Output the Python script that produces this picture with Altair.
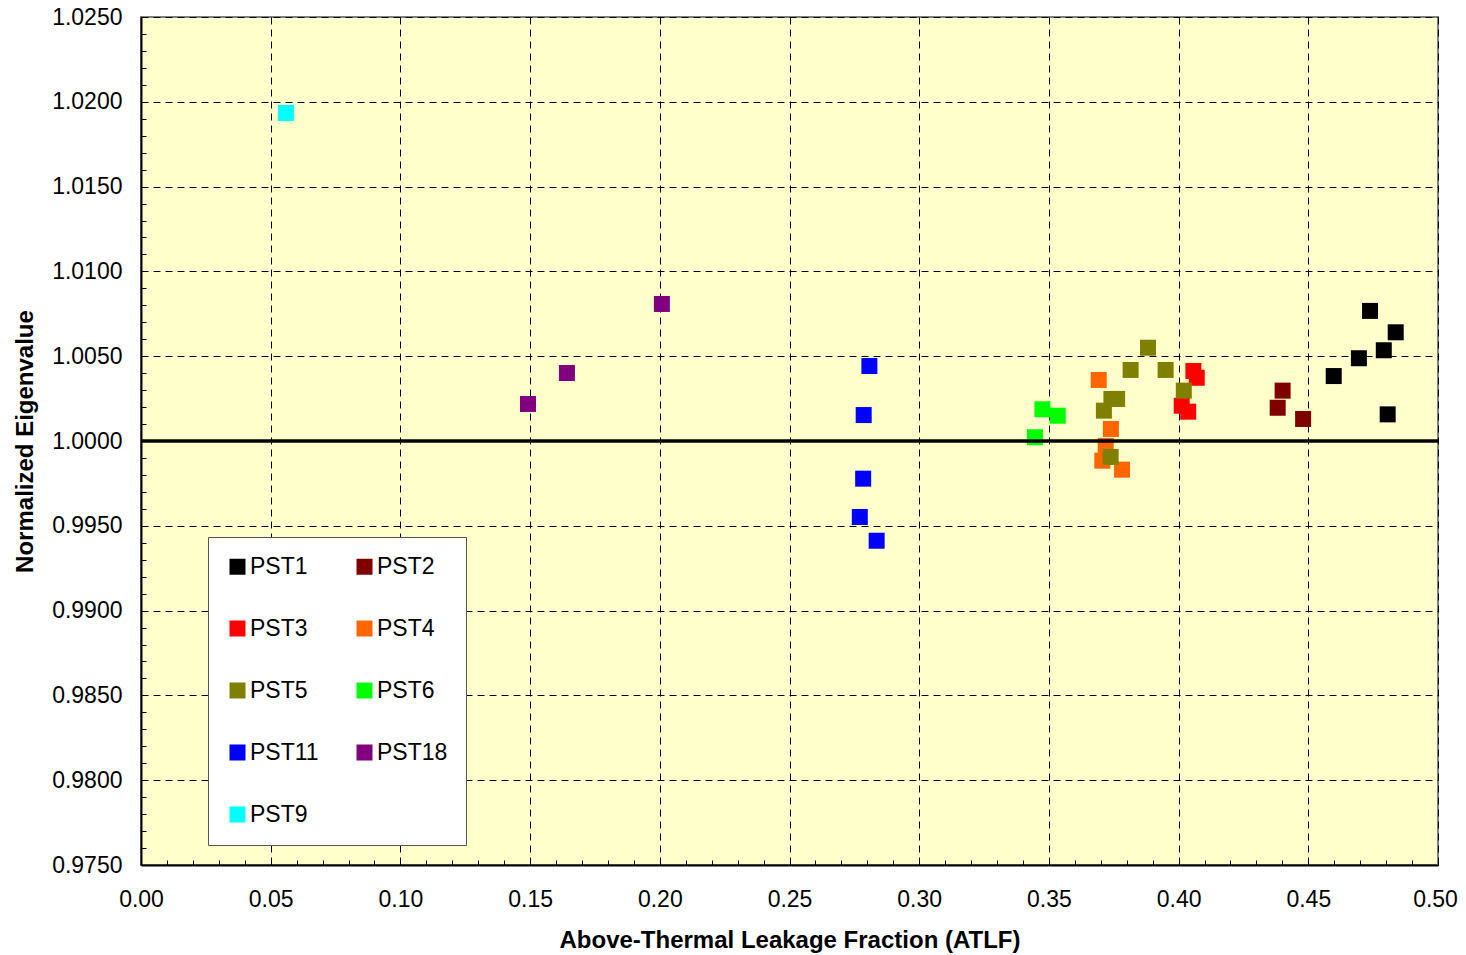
import altair as alt
import pandas as pd

series_order = ["PST1", "PST2", "PST3", "PST4", "PST5", "PST6", "PST11", "PST18", "PST9"]
series_colors = ["#000000", "#800000", "#FF0000", "#FF6600", "#808000",
                 "#00FF00", "#0000FF", "#800080", "#00FFFF"]
# legend grid is filled column by column: list entries so rows read PST1 PST2 / PST3 PST4 / ...
legend_order = ["PST1", "PST3", "PST5", "PST11", "PST9", "PST2", "PST4", "PST6", "PST18"]

pst1_x = [0.4738, 0.4837, 0.4791, 0.4695, 0.4598, 0.4806]
pst1_y = [1.00767, 1.00641, 1.00535, 1.00488, 1.00383, 1.00157]
pst2_x = [0.4401, 0.4382, 0.4480]
pst2_y = [1.00297, 1.00196, 1.00130]
pst3_x = [0.4057, 0.4070, 0.4012, 0.4037]
pst3_y = [1.00413, 1.00373, 1.00208, 1.00173]
pst4_x = [0.3692, 0.3739, 0.3719, 0.3706, 0.3782]
pst4_y = [1.00360, 1.00071, 0.99971, 0.99884, 0.99831]
pst5_x = [0.3882, 0.3815, 0.3950, 0.4020, 0.3741, 0.3763, 0.3712, 0.3738]
pst5_y = [1.00550, 1.00419, 1.00419, 1.00297, 1.00248, 1.00248, 1.00179, 0.99906]
pst6_x = [0.3475, 0.3534, 0.3446]
pst6_y = [1.00187, 1.00149, 1.00022]
pst11_x = [0.2808, 0.2786, 0.2784, 0.2771, 0.2836]
pst11_y = [1.00442, 1.00153, 0.99778, 0.99552, 0.99412]
pst18_x = [0.1492, 0.1642, 0.2008]
pst18_y = [1.00218, 1.00401, 1.00808]
pst9_x = [0.0559]
pst9_y = [1.01934]

reference_value = [1.0]

x_ticks = [round(i * 0.01, 2) for i in range(51)]
y_ticks = [round(0.975 + i * 0.001, 3) for i in range(51)]

series_data = [
    ("PST1", pst1_x, pst1_y), ("PST2", pst2_x, pst2_y), ("PST3", pst3_x, pst3_y),
    ("PST4", pst4_x, pst4_y), ("PST5", pst5_x, pst5_y), ("PST6", pst6_x, pst6_y),
    ("PST11", pst11_x, pst11_y), ("PST18", pst18_x, pst18_y), ("PST9", pst9_x, pst9_y),
]
rows = []
for name, xs, ys in series_data:
    for xv, yv in zip(xs, ys):
        rows.append({"series": name, "atlf": xv, "eig": yv})
df = pd.DataFrame(rows)
ref_df = pd.DataFrame({"eig": reference_value})

color_lookup = dict(zip(series_order, series_colors))
legend_colors = [color_lookup[s] for s in legend_order]

FONT = "Liberation Sans"

xscale = alt.Scale(domain=[0, 0.5], nice=False, zero=False)
yscale = alt.Scale(domain=[0.975, 1.025], nice=False, zero=False)

x_axis = alt.Axis(
    values=x_ticks,
    labelExpr="round(datum.value*100) % 5 == 0 ? format(datum.value, '.2f') : ''",
    labelFont=FONT, labelFontSize=23, labelColor="black",
    labelPadding=28, labelFlush=False, labelOverlap=False,
    labelOffset={"condition": {"test": "datum.value >= 0.495", "value": -3}, "value": 0},
    tickSize={"expr": "-5"}, tickColor="black", tickWidth=1,
    grid=True,
    gridOpacity={"condition": {"test": "round(datum.value*100) % 5 == 0", "value": 1}, "value": 0},
    gridColor="black", gridDash=[7, 5], gridWidth=1,
    domainColor="black", domainWidth=2,
    title="Above-Thermal Leakage Fraction (ATLF)",
    titleFont=FONT, titleFontSize=24, titleFontWeight="bold", titleColor="black",
    titlePadding=17,
)
y_axis = alt.Axis(
    values=y_ticks,
    labelExpr="round(datum.value*1000) % 5 == 0 ? format(datum.value, '.4f') : ''",
    labelFont=FONT, labelFontSize=23, labelColor="black",
    labelPadding=24, labelFlush=False, labelOverlap=False,
    tickSize={"expr": "-5"}, tickColor="black", tickWidth=1,
    grid=True,
    gridOpacity={"condition": {"test": "round(datum.value*1000) % 5 == 0", "value": 1}, "value": 0},
    gridColor="black", gridDash=[7, 5], gridWidth=1,
    domainColor="black", domainWidth=2,
    title="Normalized Eigenvalue",
    titleFont=FONT, titleFontSize=24, titleFontWeight="bold", titleColor="black",
    titlePadding=14,
)

points = alt.Chart(df).mark_square(size=256, opacity=1, strokeWidth=0).encode(
    x=alt.X("atlf:Q", scale=xscale, axis=x_axis),
    y=alt.Y("eig:Q", scale=yscale, axis=y_axis),
    color=alt.Color(
        "series:N",
        scale=alt.Scale(domain=legend_order, range=legend_colors),
        title=None,
        legend=alt.Legend(
            orient="none", legendX=67, legendY=520, columns=2,
            symbolType="square", symbolSize=256, symbolStrokeWidth=0, symbolOpacity=1,
            labelFont=FONT, labelFontSize=23, labelColor="black", labelOffset=1,
            labelLimit=300, rowPadding=38, columnPadding=34, padding=18,
            strokeColor="#555555", fillColor="white",
        ),
    ),
    order=alt.Order("idx:Q"),
).transform_window(idx="row_number()")

ref_line = alt.Chart(ref_df).mark_rule(color="black", strokeWidth=3.5).encode(
    y=alt.Y("eig:Q", scale=yscale, axis=y_axis),
)

chart = alt.layer(points, ref_line).properties(
    width=1297, height=848,
    autosize=alt.AutoSizeParams(type="none"),
    padding={"left": 133, "top": 9, "right": 20, "bottom": 88},
    background="white",
).configure_view(fill="#FFFFCC", stroke="#808080", strokeWidth=2)

chart.save("out.html", embed_options={"renderer": "svg", "actions": False})
